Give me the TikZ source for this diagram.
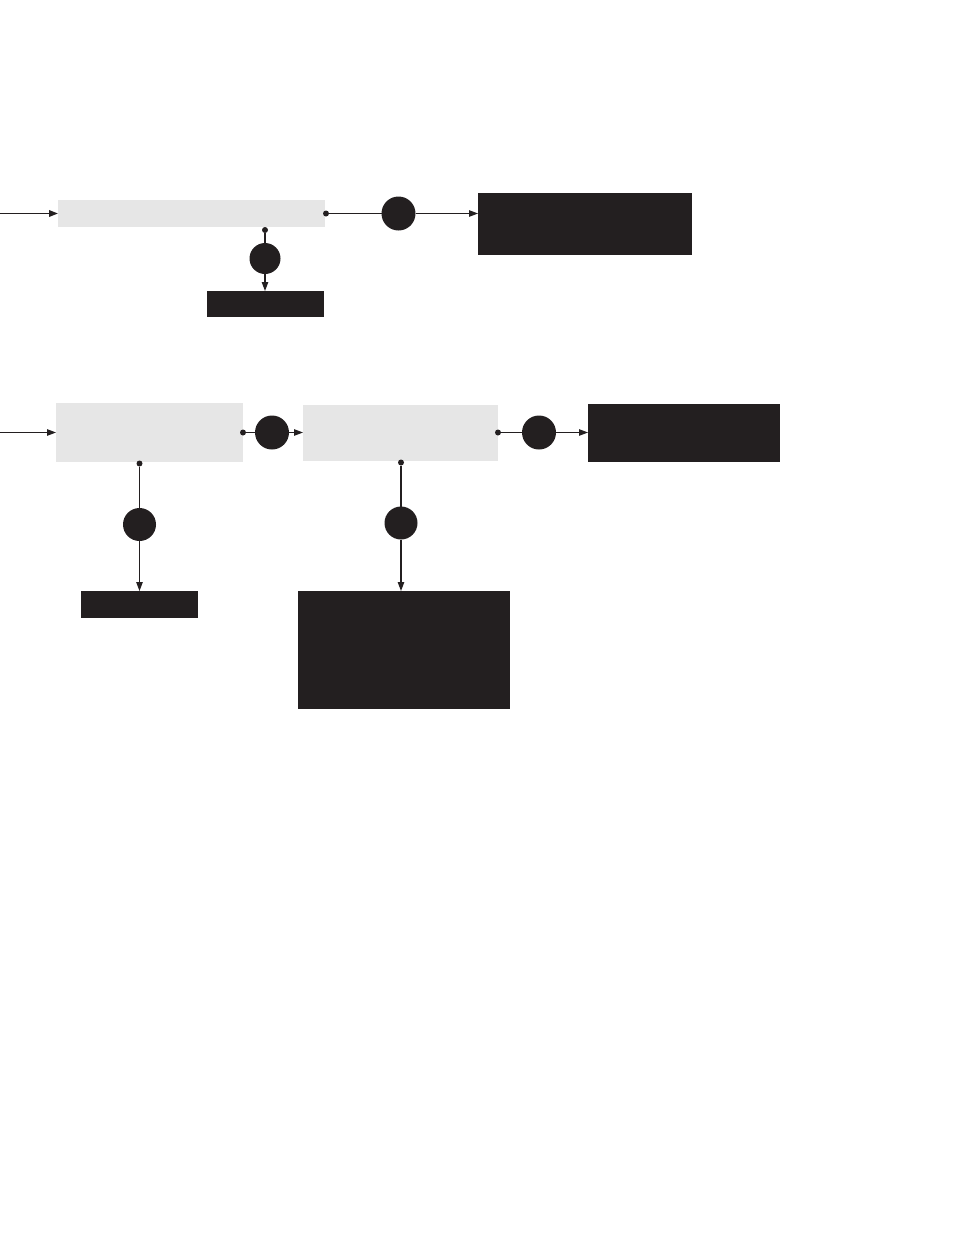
\documentclass[tikz,border=0pt]{standalone}
\usepackage{tikz}
\usetikzlibrary{arrows.meta}
\definecolor{ink}{RGB}{35,31,32}
\definecolor{pale}{RGB}{230,230,230}
\begin{document}
\begin{tikzpicture}[x=1pt,y=-1pt]
\tikzstyle{every node}+=[inner sep=0pt,outer sep=0pt]
\tikzstyle{graybox}=[rectangle,fill=pale,draw=none]
\tikzstyle{inkbox}=[rectangle,fill=ink,draw=none]
\tikzstyle{bigdot}=[circle,fill=ink,draw=none,minimum size=33]
\tikzstyle{tapdot}=[circle,fill=ink,draw=none,minimum size=6]
\tikzstyle{wire}=[ink,line width=1.1pt]
\tikzstyle{flow}=[wire,-{Triangle[length=9pt,width=6.5pt]}]
\useasboundingbox (0,0) rectangle (954,1235);
\coordinate (in1) at (0,213.5);
\node [graybox,minimum width=267,minimum height=27] (g1) at (191.5,213.5) {};
\node [tapdot] (d1) at (326,213.5) {};
\node [bigdot,minimum size=34] (c1) at (398.5,213.5) {};
\node [inkbox,minimum width=214,minimum height=62] (b1) at (585,224) {};
\node [tapdot] (d2) at (265,230) {};
\node [bigdot,minimum size=31] (c2) at (265,258.5) {};
\node [inkbox,minimum width=117,minimum height=26] (b2) at (265.5,304) {};
\draw [flow,line width=1.8pt] (in1) -- (g1.west);
\draw [wire] (d1) -- (c1);
\draw [flow] (c1) -- (b1.west |- c1);
\draw [wire] (d2) -- (c2);
\draw [flow] (c2) -- (b2.north -| c2);
\coordinate (in2) at (0,432.5);
\node [graybox,minimum width=187,minimum height=59] (g2) at (149.5,432.5) {};
\node [tapdot] (d3) at (243,432.5) {};
\node [bigdot,minimum size=34] (c3) at (272,432.5) {};
\node [graybox,minimum width=195,minimum height=56] (g3) at (400.5,433) {};
\node [tapdot] (d4) at (498,432.5) {};
\node [bigdot,minimum size=34] (c4) at (539,432.5) {};
\node [inkbox,minimum width=192,minimum height=58] (b3) at (684,433) {};
\node [tapdot] (d5) at (139.5,463.5) {};
\node [bigdot] (c5) at (139.5,524.5) {};
\node [inkbox,minimum width=117,minimum height=27] (b4) at (139.5,604.5) {};
\node [tapdot] (d6) at (401,462.5) {};
\node [bigdot] (c6) at (401,523) {};
\node [inkbox,minimum width=212,minimum height=118] (b5) at (404,650) {};
\draw [flow] (in2) -- (g2.west |- in2);
\draw [wire] (d3) -- (c3);
\draw [flow] (c3) -- (g3.west |- c3);
\draw [wire] (d4) -- (c4);
\draw [flow] (c4) -- (b3.west |- c4);
\draw [wire] (d5) -- (c5);
\draw [flow] (c5) -- (b4.north -| c5);
\draw [wire] (d6) -- (c6);
\draw [flow] (c6) -- (b5.north -| c6);
\end{tikzpicture}
\end{document}
